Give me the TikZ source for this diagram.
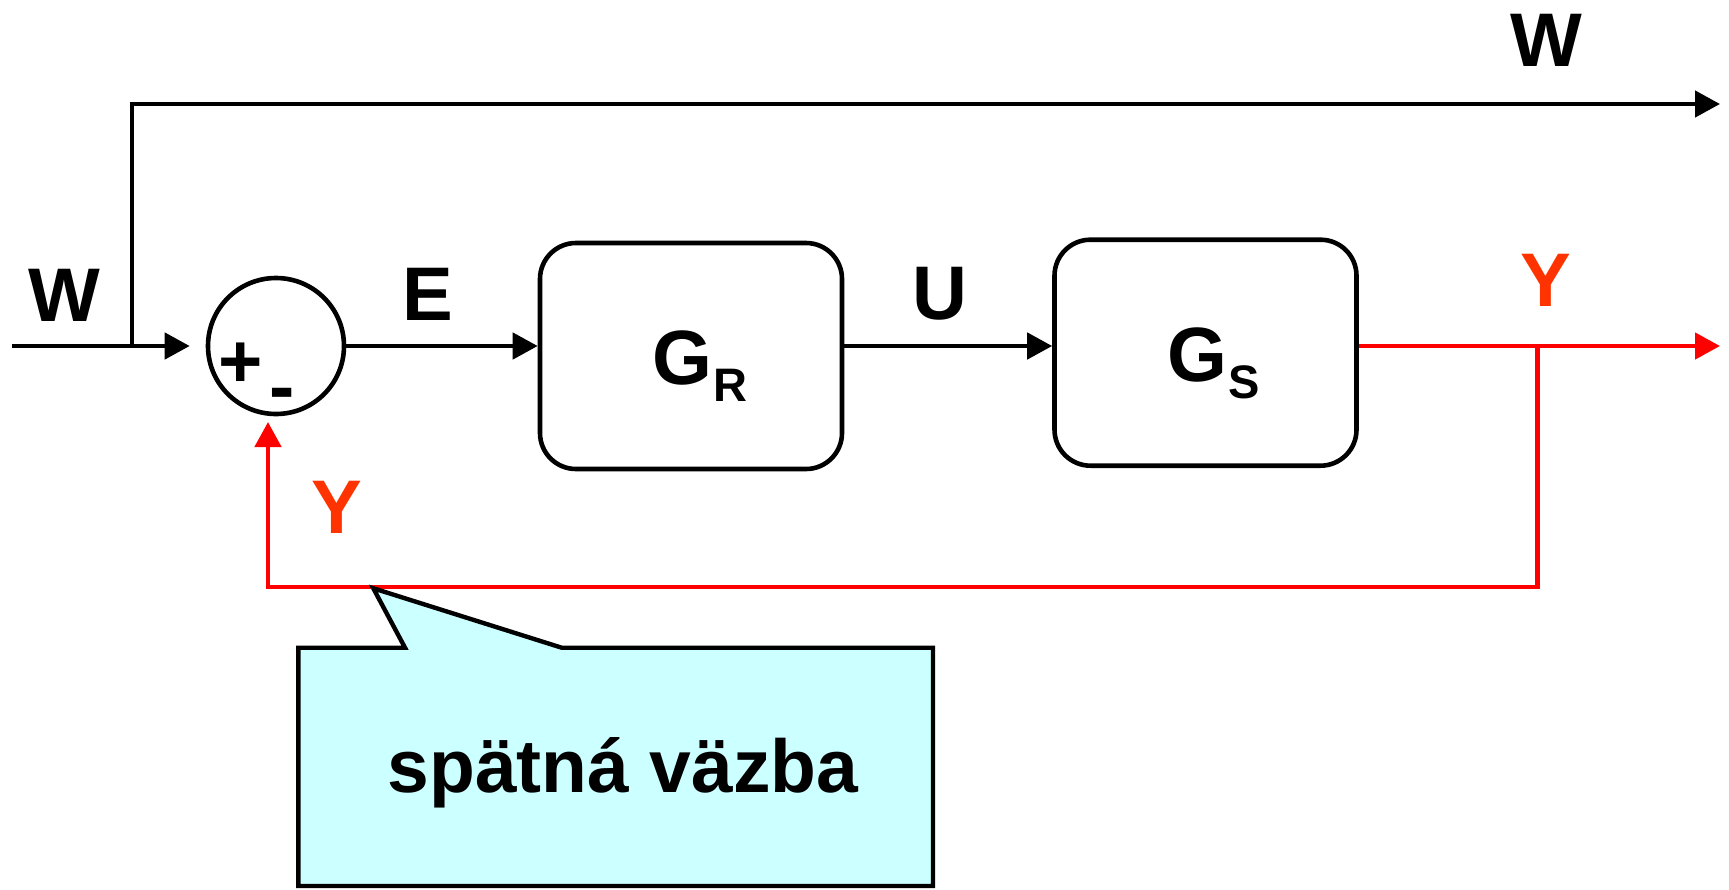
\documentclass[tikz,border=0pt]{standalone}
\usepackage{fontspec}
\setmainfont{Liberation Sans}
\usetikzlibrary{arrows.meta}
\definecolor{lcyan}{HTML}{CCFFFF}
\definecolor{yorange}{HTML}{FF3300}
\definecolor{fbred}{HTML}{FF0000}
\begin{document}
\begin{tikzpicture}[x=1pt,y=-1pt,
  lab/.style={font=\fontsize{76}{80}\selectfont\bfseries, inner sep=0pt, anchor=base},
  gtext/.style={font=\fontsize{77}{80}\selectfont\bfseries, inner sep=0pt, anchor=base west},
  blk/.style={draw, line width=4.6pt, rounded corners=36pt, minimum width=302pt, minimum height=226pt, inner sep=0pt},
  wire/.style={line width=4.6pt},
  arr/.style={-{Triangle[length=25pt,width=26pt]}},
  redwire/.style={wire, draw=fbred}
]
\useasboundingbox (0,0) rectangle (1729,889);

% blocks
\node[circle, draw, line width=4.6pt, minimum size=136pt, inner sep=0pt] (sum) at (276,346) {};
\node[blk] (GR) at (691,356) {};
\node[blk] (GS) at (1205.5,352.7) {};

% texts in blocks
\node[gtext] (grtext) at (652,384) {G\kern1pt\raisebox{-17pt}{\fontsize{47}{50}\selectfont R}};
\node[gtext] (gstext) at (1167,381) {G\kern1pt\raisebox{-17pt}{\fontsize{47}{50}\selectfont S}};
\node[lab] (plus) at (240.5,387) {+};
\node[lab] (minus) at (282.5,412) {-};

% coordinates
\coordinate (in) at (11.7,346);
\coordinate (wj) at (132,346);
\coordinate (wout) at (1720,104);
\coordinate (yout) at (1720,346);
\coordinate (fb) at (1537.5,346);
\coordinate (fbc) at (1537.5,587);
\coordinate (fbtip) at (268,422);

% connectors
\draw[wire, arr] (in) -- ([xshift=-16pt]sum.west);
\draw[wire, arr] (wj) |- (wout);
\draw[wire, arr] (sum.east) -- (sum.east -| GR.west);
\draw[wire, arr] (GR.east |- sum.center) -- (GS.west |- sum.center);
\draw[redwire, arr] (GS.east |- sum.center) -- (yout);
\draw[redwire, arr] (fb) -- (fbc) -| (fbtip);

% labels
\node[lab] (wlabtop) at (1546,66) {W};
\node[lab] (wlabin) at (64,321.7) {W};
\node[lab] (elab) at (428,320) {E};
\node[lab] (ulab) at (940,319) {U};
\node[lab, text=yorange] (ylabout) at (1546,306.7) {Y};
\node[lab, text=yorange] (ylabfb) at (337,533) {Y};

% callout
\draw[line width=4.4pt, fill=lcyan, line join=miter]
  (298.3,886) -- (298.3,647.7) -- (405,647.7) -- (373.3,588.3) -- (561.7,647.7)
  -- (933,647.7) -- (933,886) -- cycle;
\node[lab, font=\fontsize{75}{80}\selectfont\bfseries] (fbtext) at (623,792) {spätná väzba};
\end{tikzpicture}
\end{document}
